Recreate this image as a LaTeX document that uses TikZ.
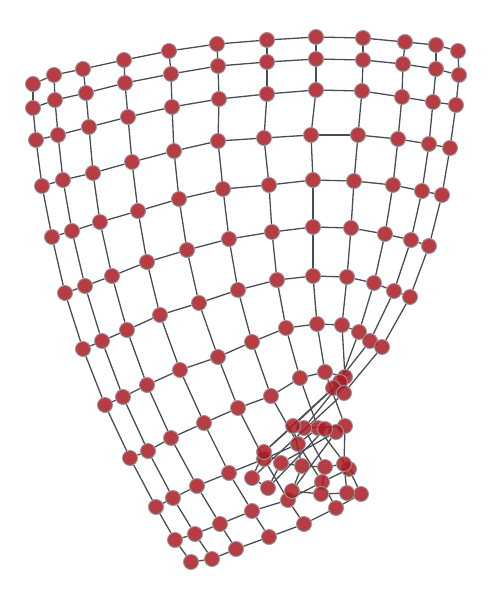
\documentclass[tikz,border=0pt]{standalone}
\usepackage{tikz}
\usetikzlibrary{backgrounds}

\definecolor{vred}{RGB}{170,26,35}
\definecolor{vrim}{RGB}{150,150,150}
\definecolor{ecol}{RGB}{72,78,82}

\begin{document}
\begin{tikzpicture}[x=1pt, y=-1pt,
                    vtx/.style={circle, fill=vred, fill opacity=0.85, draw=vrim, line width=0.9pt,
                                minimum size=15pt, inner sep=0pt},
                    edge/.style={draw=ecol, line width=1.3pt}]

\useasboundingbox (0,0) rectangle (492,600);

% Rows of the mesh, top to bottom
\foreach \x/\y [count=\j] in {33/84, 54/75, 83/69, 124/60, 169/51, 217/44, 267/40, 316/37, 363/38, 405/42, 436/45, 458/51} {
    \node[vtx] (v1-\j) at (\x,\y) {};
}
\foreach \x/\y [count=\j] in {33/108, 55/100, 86/93, 125/83, 171/74, 218/66, 267/62, 316/59, 363/60, 403/64, 436/69, 459/75} {
    \node[vtx] (v2-\j) at (\x,\y) {};
}
\foreach \x/\y [count=\j] in {36/140, 58/135, 89/127, 128/117, 172/107, 219/99, 267/94, 316/90, 362/91, 402/97, 433/102, 456/105} {
    \node[vtx] (v3-\j) at (\x,\y) {};
}
\foreach \x/\y [count=\j] in {42/186, 63/180, 93/173, 132/162, 174/151, 218/141, 264/138, 311/135, 358/135, 398/139, 429/144, 450/148} {
    \node[vtx] (v4-\j) at (\x,\y) {};
}
\foreach \x/\y [count=\j] in {52/237, 72/231, 100/222, 138/211, 179/199, 223/189, 269/185, 313/180, 354/181, 393/185, 422/191, 442/195} {
    \node[vtx] (v5-\j) at (\x,\y) {};
}
\foreach \x/\y [count=\j] in {65/293, 85/286, 112/276, 147/262, 187/250, 229/239, 272/232, 313/227, 351/228, 385/234, 411/240, 429/246} {
    \node[vtx] (v6-\j) at (\x,\y) {};
}
\foreach \x/\y [count=\j] in {83/349, 102/341, 127/330, 160/315, 199/303, 238/290, 277/280, 313/276, 347/277, 374/283, 394/291, 410/297} {
    \node[vtx] (v7-\j) at (\x,\y) {};
}
\foreach \x/\y [count=\j] in {105/405, 123/397, 147/385, 180/370, 218/357, 252/342, 286/328, 317/324, 342/325, 359/332, 370/341, 382/347} {
    \node[vtx] (v8-\j) at (\x,\y) {};
}
% folded corner starts here
\foreach \x/\y [count=\j] in {130/458, 148/451, 171/438, 204/423, 238/408, 271/396, 300/378, 325/372, 345/377, 340/382, 333/388, 344/393} {
    \node[vtx] (v9-\j) at (\x,\y) {};
}
\foreach \x/\y [count=\j] in {156/507, 173/498, 197/486, 229/473, 264/459, 298/444, 318/428, 345/426, 304/428, 293/426, 264/452, 252/478} {
    \node[vtx] (v10-\j) at (\x,\y) {};
}
\foreach \x/\y [count=\j] in {175/540, 195/534, 220/524, 252/511, 288/500, 322/482, 349/469, 344/464, 325/467, 302/466, 281/463, 268/488} {
    \node[vtx] (v11-\j) at (\x,\y) {};
}
\foreach \x/\y [count=\j] in {191/562, 212/559, 236/549, 269/537, 304/524, 336/508, 361/494, 347/493, 321/494, 292/491, 336/432, 325/429} {
    \node[vtx] (v12-\j) at (\x,\y) {};
}

% Grid edges
\begin{scope}[on background layer]
    \foreach \i in {1,...,12} {
        \foreach \j [evaluate=\j as \k using int(\j+1)] in {1,...,11} {
            \draw[edge] (v\i-\j) -- (v\i-\k);
        }
    }
    \foreach \i [evaluate=\i as \k using int(\i+1)] in {1,...,11} {
        \foreach \j in {1,...,12} {
            \draw[edge] (v\i-\j) -- (v\k-\j);
        }
    }
\end{scope}

\end{tikzpicture}
\end{document}
